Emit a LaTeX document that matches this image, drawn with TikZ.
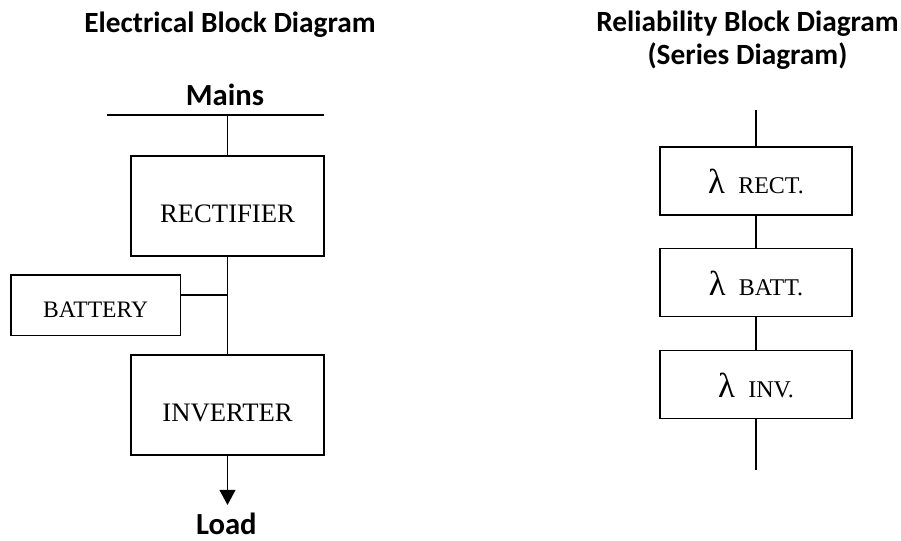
\documentclass[tikz,border=0pt]{standalone}
\usepackage{fontspec}
\setmainfont{Liberation Serif}
\newfontfamily\headfont{Carlito}
\usetikzlibrary{arrows.meta}

\begin{document}
\begin{tikzpicture}[x=0.75pt,y=-0.75pt,
    block/.style={draw,line width=1pt,inner xsep=0pt,inner ysep=0pt,outer sep=0pt,anchor=north west},
    bigblock/.style={block,minimum width=144.75pt,text height=50pt,text depth=25pt,font=\fontsize{20}{24}\selectfont},
    lamblock/.style={block,minimum width=144pt,text height=35.25pt,text depth=15.75pt,font=\fontsize{18}{22}\selectfont},
    heading/.style={font=\headfont\bfseries\fontsize{22}{24.75}\selectfont,align=center,inner sep=0pt,anchor=base},
    endlabel/.style={heading,font=\headfont\bfseries\fontsize{23}{26}\selectfont},
    wire/.style={line width=1.2pt}]
    \useasboundingbox (0,0) rectangle (901,541);

    % draw the headings (base of a two line node is its last line)
    \node[heading] (elechead) at (230,32.3) {Electrical Block Diagram};
    \node[heading] (relhead) at (747.5,65) {Reliability Block Diagram\\(Series Diagram)};

    % draw the mains bus
    \node[endlabel] (mains) at (225,106) {Mains};
    \coordinate (busL) at (107,115);
    \coordinate (busR) at (324,115);
    \draw[wire] (busL) -- (busR);

    % draw the electrical blocks
    \node[bigblock] (rect) at (131,156) {RECTIFIER};
    \node[block,minimum width=127pt,text height=31.7pt,text depth=13.8pt,font=\fontsize{17.7}{21}\selectfont] (batt) at (11,275) {BATTERY};
    \node[bigblock] (inv) at (131,355) {INVERTER};

    % wires between the electrical blocks
    \coordinate (tap) at (rect.south |- 0,295);
    \coordinate (loadtip) at (inv.south |- 0,505);
    \draw[wire] (rect.north |- busL) -- (rect.north);
    \draw[wire] (rect.south) -- (inv.north);
    \draw[wire] (batt.east |- tap) -- (tap);
    \draw[wire,-{Triangle[length=11.25pt,width=11.8pt]}] (inv.south) -- (loadtip);
    \node[endlabel] (load) at (226.3,534.5) {Load};

    % draw the series blocks
    \node[lamblock] (lrect) at (660,147) {{\fontsize{26}{26}\selectfont λ}\hspace{10pt}RECT.};
    \node[lamblock] (lbatt) at (660,248.3) {{\fontsize{26}{26}\selectfont λ}\hspace{10pt}BATT.};
    \node[lamblock] (linv) at (660,350.7) {{\fontsize{26}{26}\selectfont λ}\hspace{10pt}INV.};

    % wires of the series chain
    \coordinate (chaintop) at (lrect.north |- 0,110);
    \coordinate (chainbot) at (linv.south |- 0,470);
    \draw[wire] (chaintop) -- (lrect.north);
    \draw[wire] (lrect.south) -- (lbatt.north);
    \draw[wire] (lbatt.south) -- (linv.north);
    \draw[wire] (linv.south) -- (chainbot);
\end{tikzpicture}
\end{document}
